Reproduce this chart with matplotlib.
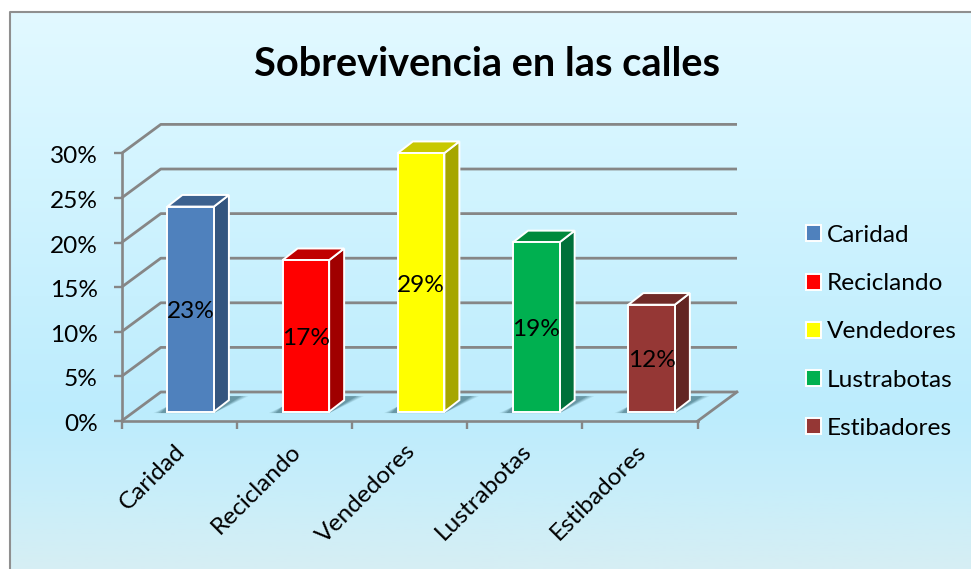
import numpy as np
import matplotlib
matplotlib.use("Agg")
import matplotlib.pyplot as plt
from matplotlib.colors import LinearSegmentedColormap
from matplotlib.patches import Patch, Polygon
from matplotlib.transforms import ScaledTranslation

categories = ["Caridad", "Reciclando", "Vendedores", "Lustrabotas", "Estibadores"]
values = [23, 17, 29, 19, 12]
y_ticks = [0, 5, 10, 15, 20, 25, 30]
title = "Sobrevivencia en las calles"

front_colors = ["#4f81bd", "#ff0000", "#ffff00", "#00b050", "#953735"]
top_colors = ["#3c618f", "#c00000", "#c8c800", "#008a3c", "#702a28"]
side_colors = ["#34557f", "#a00000", "#a6a600", "#00703a", "#632523"]
GRID = "#868686"
FONT = ["Lato", "DejaVu Sans"]
FS = 17.6

W, H = 971, 569
fig = plt.figure(figsize=(W / 100, H / 100), dpi=100, facecolor="white")
plt.rcParams["font.family"] = FONT

# background panel with vertical gradient
bg = fig.add_axes([0, 0, 1, 1], zorder=0)
bg.axis("off")
cmap = LinearSegmentedColormap.from_list(
    "bg", [(0, "#e2f9ff"), (0.3, "#d2f4ff"), (0.72, "#bcecfd"), (0.86, "#c8eefa"), (1, "#d6eef4")]
)
bg.imshow(np.linspace(0, 1, 256)[:, None], cmap=cmap, extent=(10, W, H, 12), aspect="auto", zorder=0)
bg.plot([10, 10, W], [H, 12, 12], color="#8f8f8f", lw=1.5, zorder=1)
bg.set_xlim(0, W)
bg.set_ylim(H, 0)

# plot axes: front plane of the 3-D box
L, R, T, B = 121.5, 697.7, 153.4, 421.0
ax = fig.add_axes([L / W, 1 - B / H, (R - L) / W, (B - T) / H], zorder=1)
ax.patch.set_alpha(0)
ax.set_xlim(0, len(categories))
ax.set_ylim(0, 30)
for name in ["top", "right"]:
    ax.spines[name].set_visible(False)
for name in ["left", "bottom"]:
    ax.spines[name].set_color(GRID)
    ax.spines[name].set_linewidth(1.9)

n = len(categories)
WALL_DX, WALL_DY = 0.341, 3.25
BAR_DX, BAR_DY = 0.13, 1.3
BAR_W, BAR_BASE, BAR_OFF = 0.404, 1.04, 0.6

# walls, gridlines
for v in y_ticks:
    ax.plot([0, WALL_DX, n + WALL_DX], [v, v + WALL_DY, v + WALL_DY],
            color=GRID, lw=2.0, clip_on=False, zorder=1, solid_capstyle="butt")
ax.plot([n, n + WALL_DX], [0, WALL_DY], color=GRID, lw=2.0, clip_on=False, zorder=1)

# bars
x = np.arange(n) + BAR_OFF
for i, (xc, v) in enumerate(zip(x, values)):
    x0, x1 = xc - BAR_W / 2, xc + BAR_W / 2
    y0, y1 = BAR_BASE, BAR_BASE + v
    # floor shadow
    for grow, a in [(0.07, 0.14), (0.05, 0.2), (0.03, 0.26), (0.01, 0.34)]:
        ax.add_patch(Polygon(
            [(x0 - 0.05 - grow, y0 - 0.15), (x1, y0 - 0.15),
             (x1 + BAR_DX + 0.1 + grow, y0 + BAR_DY + 0.45), (x1, y0 + BAR_DY + 0.45),
             (x0, y0 + 0.6)],
            closed=True, fc="#3f6f7c", ec="none", alpha=a, clip_on=False, zorder=2))
    ax.add_patch(Polygon(
        [(x1, y0), (x1 + BAR_DX, y0 + BAR_DY), (x1 + BAR_DX, y1 + BAR_DY), (x1, y1)],
        closed=True, fc=side_colors[i], ec="white", lw=1.4, clip_on=False, zorder=3))
    ax.add_patch(Polygon(
        [(x0, y1), (x1, y1), (x1 + BAR_DX, y1 + BAR_DY), (x0 + BAR_DX, y1 + BAR_DY)],
        closed=True, fc=top_colors[i], ec="white", lw=1.4, clip_on=False, zorder=3))
    ax.bar(xc, v, BAR_W, bottom=BAR_BASE, color=front_colors[i], edgecolor="white",
           linewidth=1.4, zorder=4, clip_on=False)
    ax.text(xc, y0 + v / 2 - 0.3, f"{v}%", ha="center", va="center", fontsize=FS,
            color="black", zorder=5, family=FONT)

# axes ticks
ax.set_yticks(y_ticks)
ax.set_yticklabels([f"{v}%" for v in y_ticks], fontsize=FS, family=FONT)
ax.set_xticks(np.arange(n + 1))
ax.set_xticklabels([])
ax.set_xticks(np.arange(n) + 0.46, minor=True)
ax.set_xticklabels(categories, minor=True, rotation=45, ha="right", va="top",
                   rotation_mode="anchor", fontsize=FS, family=FONT)
ax.tick_params(axis="both", which="major", color=GRID, width=1.7, length=6)
ax.tick_params(axis="y", pad=11)
ax.tick_params(axis="x", which="minor", length=0, pad=14)
shift = ScaledTranslation(0, -1.5 / 100, fig.dpi_scale_trans)
for lab in ax.get_yticklabels():
    lab.set_transform(lab.get_transform() + shift)

# legend
handles = [Patch(fc=c, ec="white", lw=1.4, label=l) for c, l in zip(front_colors, categories)]
leg = fig.legend(handles=handles, loc="center left", bbox_to_anchor=(806 / W, 1 - 332 / H),
                 frameon=False, prop={"family": FONT, "size": FS},
                 labelspacing=1.115, handlelength=0.62, handleheight=0.62, handletextpad=0.22,
                 borderpad=0, borderaxespad=0)
leg.set_zorder(6)

fig.text(487 / W, 1 - 64 / H, title, ha="center", va="center", fontsize=28.6,
         fontweight="bold", family=FONT, color="black", zorder=6)

fig.savefig("out.png", dpi=100)
